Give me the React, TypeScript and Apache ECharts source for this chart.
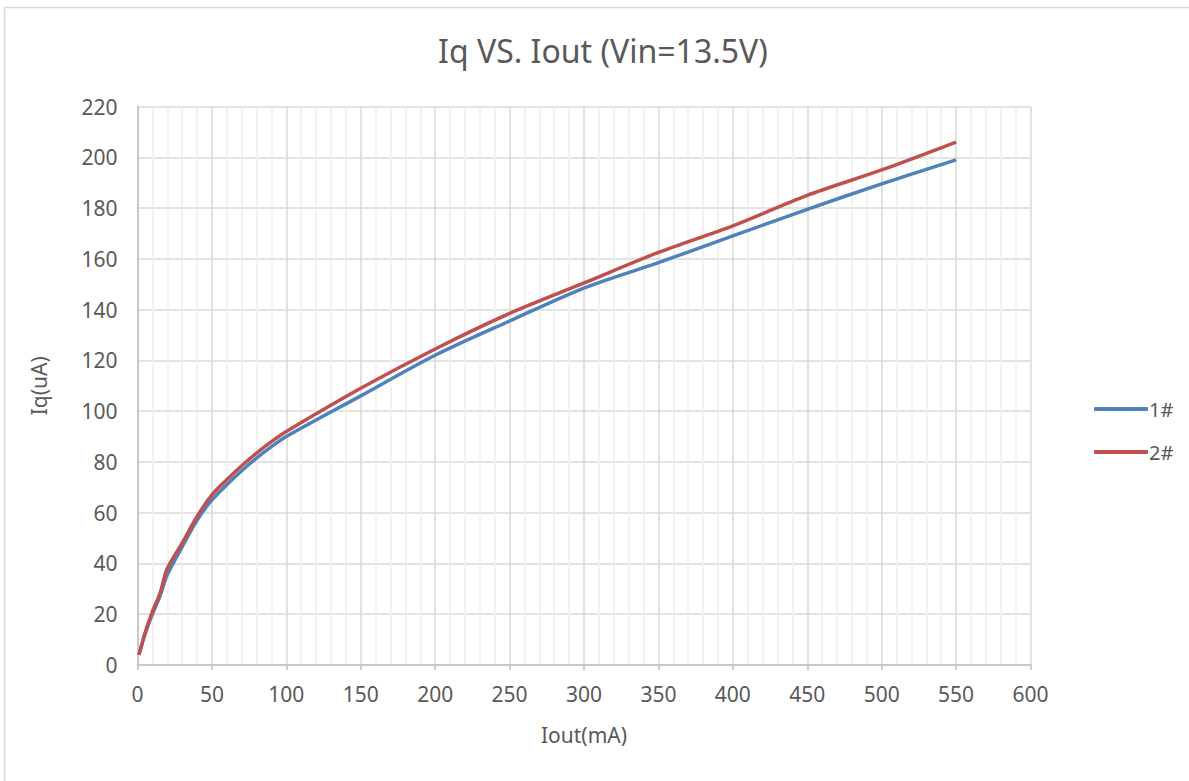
import React, { useEffect, useRef } from "react";
import * as echarts from "echarts";

const xValues = [1, 5, 10, 15, 20, 30, 40, 50, 60, 70, 80, 90, 100, 150, 200, 250, 300, 350, 400, 450, 500, 550];
const series1 = [4, 12, 20, 27, 35.5, 46.5, 57, 65, 71, 76.5, 81.5, 86, 90, 106, 122, 135.5, 148.5, 158.5, 169, 179.5, 189.5, 199];
const series2 = [4, 12.5, 21, 28, 38, 48, 58.5, 67, 73, 78.5, 83.5, 88, 92, 109, 124.5, 138.5, 150.5, 162.5, 173, 185, 195, 206];
const seriesNames = ["1#", "2#"];
const titleText = "Iq VS. Iout (Vin=13.5V)";
const xName = "Iout(mA)";
const yName = "Iq(uA)";

const FONT = "'Noto Sans', 'Open Sans', sans-serif";
const TEXT = "#595959";

export default function App() {
  const ref = useRef<HTMLDivElement>(null);
  useEffect(() => {
    if (!ref.current) return;
    const chart = echarts.init(ref.current, undefined, { renderer: "svg" });
    const toPairs = (ys: number[]) => xValues.map((x, i) => [x, ys[i]]);
    chart.setOption({
      animation: false,
      backgroundColor: "#ffffff",
      textStyle: { fontFamily: FONT },
      title: {
        text: titleText,
        left: 598,
        top: 29,
        textAlign: "center",
        textStyle: { fontFamily: FONT, fontSize: 32, fontWeight: "normal", color: TEXT },
      },
      graphic: [
        {
          type: "rect",
          shape: { x: 4.5, y: 7.5, width: 1200, height: 800 },
          style: { fill: "none", stroke: "#D9D9D9", lineWidth: 1.5 },
          silent: true,
          z: -10,
        },
      ],
      legend: {
        orient: "vertical",
        left: 1089,
        top: 394,
        itemGap: 23,
        itemWidth: 54,
        itemHeight: 4,
        icon: "roundRect",
        textStyle: { fontFamily: FONT, fontSize: 20, color: TEXT, padding: [0, 0, 0, -4] },
        data: seriesNames,
      },
      grid: { left: 137.5, right: 158.5, top: 106.5, bottom: 116, containLabel: false },
      xAxis: {
        type: "value",
        min: 0,
        max: 600,
        interval: 50,
        name: xName,
        nameLocation: "middle",
        nameGap: 59,
        nameTextStyle: { fontFamily: FONT, fontSize: 21, color: TEXT },
        axisLine: { show: true, lineStyle: { color: "#BFBFBF", width: 1.5 } },
        axisTick: { show: true, length: 5, lineStyle: { color: "#BFBFBF", width: 1.5 } },
        axisLabel: { fontFamily: FONT, fontSize: 21, color: TEXT, margin: 18 },
        splitLine: { show: true, lineStyle: { color: "#D9D9D9", width: 1.5 } },
        minorTick: { show: false, splitNumber: 5 },
        minorSplitLine: { show: true, lineStyle: { color: "#EEEEEE", width: 1.5 } },
      },
      yAxis: {
        type: "value",
        min: 0,
        max: 220,
        interval: 20,
        name: yName,
        nameLocation: "middle",
        nameRotate: 90,
        nameGap: 88,
        nameTextStyle: { fontFamily: FONT, fontSize: 21, color: TEXT },
        axisLine: { show: true, lineStyle: { color: "#BFBFBF", width: 1.5 } },
        axisTick: { show: false },
        axisLabel: { fontFamily: FONT, fontSize: 21, color: TEXT, margin: 20 },
        splitLine: { show: true, lineStyle: { color: "#D9D9D9", width: 1.5 } },
      },
      series: [
        {
          name: seriesNames[0],
          type: "line",
          data: toPairs(series1),
          smooth: 0.3,
          symbol: "none",
          lineStyle: { color: "#4F81BD", width: 3.5 },
          itemStyle: { color: "#4F81BD" },
          z: 3,
        },
        {
          name: seriesNames[1],
          type: "line",
          data: toPairs(series2),
          smooth: 0.3,
          symbol: "none",
          lineStyle: { color: "#C0504D", width: 3.5 },
          itemStyle: { color: "#C0504D" },
          z: 4,
        },
      ],
    });
    return () => chart.dispose();
  }, []);
  return (
    <div
      ref={ref}
      style={{ position: "absolute", left: 0, top: 0, width: 1189, height: 781 }}
    />
  );
}
